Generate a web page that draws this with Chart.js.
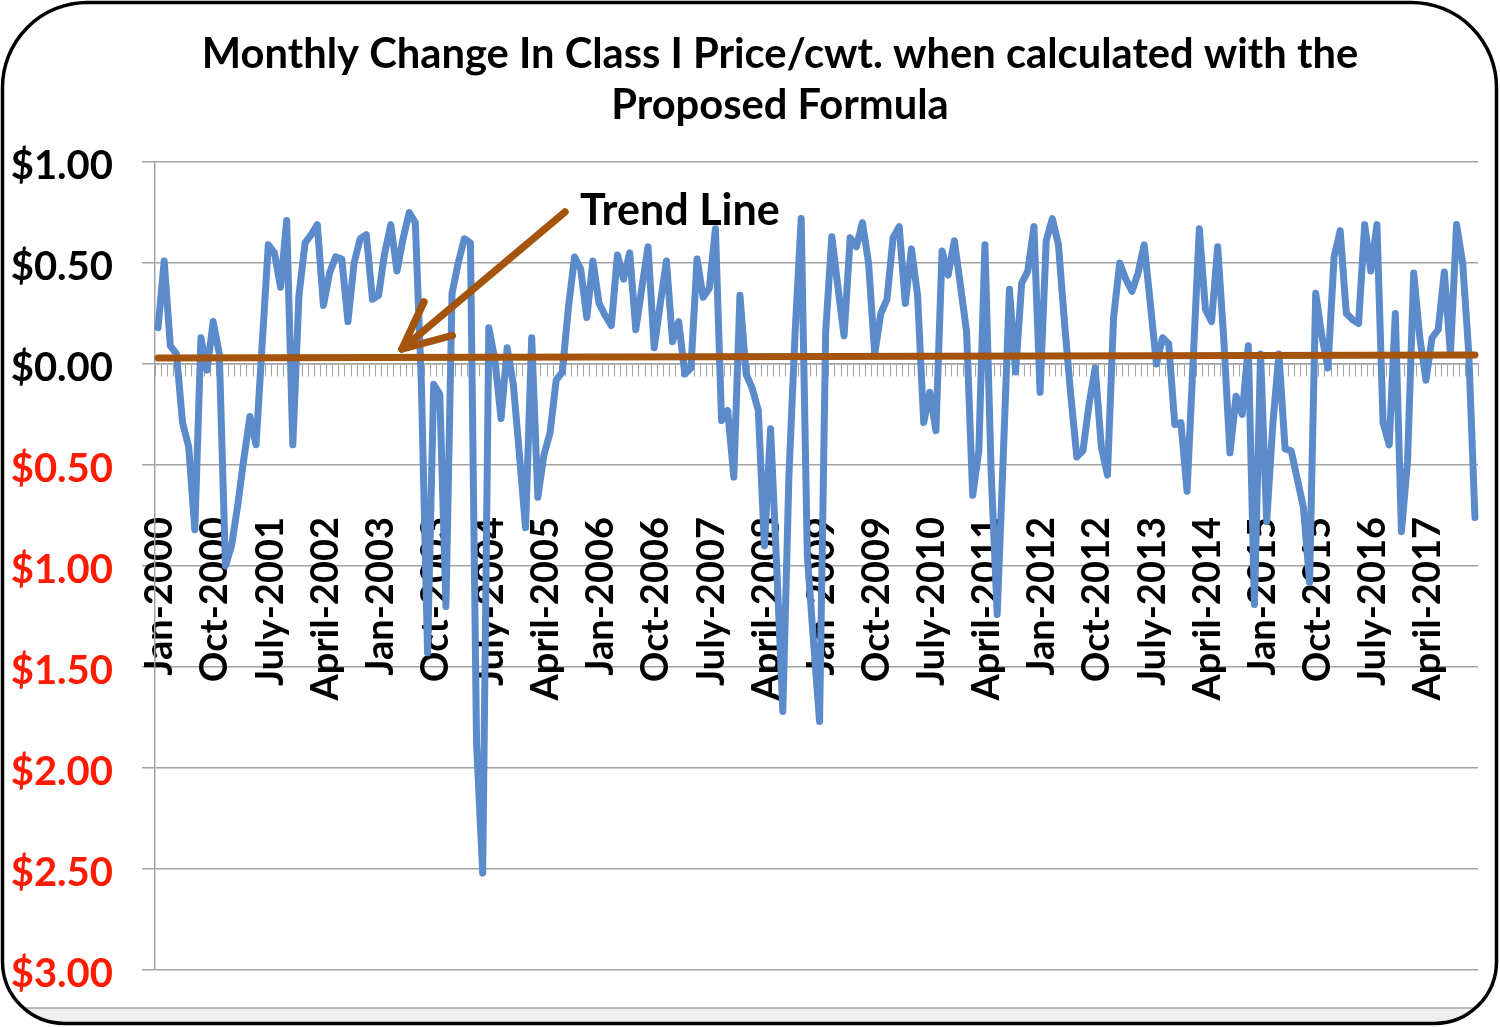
<!DOCTYPE html>
<html>
<head>
<meta charset="utf-8">
<script src="https://cdn.jsdelivr.net/npm/chart.js@4.4.1/dist/chart.umd.min.js"></script>
<style>
html,body{margin:0;padding:0;background:#ffffff;}
#wrap{width:1500px;height:1027px;position:relative;}
</style>
</head>
<body>
<div id="wrap"><canvas id="c" width="1500" height="1027"></canvas></div>
<script>
// ---------- DATA ----------
const monthNames = ['Jan','Feb','Mar','April','May','June','July','Aug','Sept','Oct','Nov','Dec'];
const years = [2000,2001,2002,2003,2004,2005,2006,2007,2008,2009,2010,2011,2012,2013,2014,2015,2016,2017];
const tickLabels = ['Jan-2000','Oct-2000','July-2001','April-2002','Jan-2003','Oct-2003','July-2004','April-2005',
  'Jan-2006','Oct-2006','July-2007','April-2008','Jan-2009','Oct-2009','July-2010','April-2011',
  'Jan-2012','Oct-2012','July-2013','April-2014','Jan-2015','Oct-2015','July-2016','April-2017'];
const categories = [];
years.forEach(y => monthNames.forEach(m => categories.push(m + '-' + y)));

// Monthly change in Class I price ($/cwt), Jan-2000 .. Dec-2017
const classIChange = [
  0.18, 0.51, 0.09, 0.05, -0.29, -0.41, -0.82, 0.13, -0.03, 0.21, 0.05, -1.00,   // 2000
  -0.90, -0.70, -0.47, -0.26, -0.40, 0.10, 0.59, 0.55, 0.38, 0.71, -0.40, 0.34,  // 2001
  0.60, 0.64, 0.69, 0.29, 0.45, 0.53, 0.52, 0.21, 0.50, 0.62, 0.64, 0.32,        // 2002
  0.34, 0.55, 0.69, 0.46, 0.62, 0.75, 0.70, -0.11, -1.43, -0.10, -0.15, -1.20,   // 2003
  0.35, 0.50, 0.62, 0.60, -1.88, -2.52, 0.18, 0.02, -0.27, 0.08, -0.10, -0.45,   // 2004
  -0.81, 0.13, -0.66, -0.45, -0.34, -0.08, -0.04, 0.28, 0.53, 0.47, 0.23, 0.51,  // 2005
  0.30, 0.24, 0.19, 0.54, 0.42, 0.55, 0.17, 0.38, 0.58, 0.08, 0.30, 0.51,        // 2006
  0.11, 0.21, -0.05, -0.02, 0.52, 0.33, 0.375, 0.67, -0.28, -0.23, -0.56, 0.34,  // 2007
  -0.05, -0.12, -0.23, -0.90, -0.32, -1.00, -1.72, -0.55, 0.15, 0.72, -0.95, -1.37, // 2008
  -1.77, 0.16, 0.63, 0.38, 0.14, 0.625, 0.58, 0.70, 0.50, 0.05, 0.25, 0.32,      // 2009
  0.625, 0.68, 0.30, 0.57, 0.34, -0.29, -0.14, -0.33, 0.56, 0.44, 0.61, 0.39,    // 2010
  0.16, -0.65, -0.43, 0.59, -0.52, -1.24, -0.45, 0.37, -0.04, 0.40, 0.46, 0.68,  // 2011
  -0.14, 0.61, 0.72, 0.59, 0.20, -0.15, -0.46, -0.43, -0.20, -0.02, -0.41, -0.55, // 2012
  0.23, 0.50, 0.42, 0.36, 0.45, 0.59, 0.30, 0.00, 0.13, 0.10, -0.30, -0.29,      // 2013
  -0.63, 0.02, 0.67, 0.27, 0.21, 0.58, 0.12, -0.44, -0.16, -0.25, 0.09, -1.19,   // 2014
  0.05, -0.78, -0.30, 0.05, -0.42, -0.43, -0.57, -0.71, -1.08, 0.35, 0.14, -0.02, // 2015
  0.53, 0.66, 0.25, 0.22, 0.20, 0.69, 0.46, 0.69, -0.29, -0.40, 0.25, -0.83,     // 2016
  -0.48, 0.45, 0.13, -0.08, 0.13, 0.17, 0.455, 0.05, 0.69, 0.50, 0.05, -0.76     // 2017
];
// Linear trend line: value at first and last month
const trendEnds = [0.03, 0.045];

const yMin = -3, yMax = 1, yStep = 0.5;

// ---------- STYLE ----------
const BLUE = '#5b8bcb';
const BROWN = '#a4540c';
const RED = '#ff1a00';
const GRID = '#a3a3a3';
const FONT = 'Lato, "Open Sans", sans-serif';

const trendData = categories.map((_, i) =>
  i === 0 ? trendEnds[0] : (i === categories.length - 1 ? trendEnds[1] : null));

function roundRectPath(ctx, x, y, w, h, rt, rb) {
  ctx.beginPath();
  ctx.moveTo(x + rt, y);
  ctx.lineTo(x + w - rt, y);
  ctx.arcTo(x + w, y, x + w, y + rt, rt);
  ctx.lineTo(x + w, y + h - rb);
  ctx.arcTo(x + w, y + h, x + w - rb, y + h, rb);
  ctx.lineTo(x + rb, y + h);
  ctx.arcTo(x, y + h, x, y + h - rb, rb);
  ctx.lineTo(x, y + rt);
  ctx.arcTo(x, y, x + rt, y, rt);
  ctx.closePath();
}

function fitFont(ctx, text, targetW, base) {
  ctx.font = 'bold ' + base + 'px ' + FONT;
  const w = ctx.measureText(text).width;
  let s = base * targetW / w;
  s = Math.max(base * 0.8, Math.min(base * 1.2, s));
  return 'bold ' + s.toFixed(1) + 'px ' + FONT;
}

const framePlugin = {
  id: 'frame',
  beforeDraw(chart) {
    const ctx = chart.ctx;
    ctx.save();
    ctx.fillStyle = '#ffffff';
    ctx.fillRect(0, 0, chart.width, chart.height);
    roundRectPath(ctx, 2.5, 2.5, 1494, 1021, 85, 62);
    ctx.clip();
    ctx.fillStyle = '#efefef';
    ctx.fillRect(0, 1008, chart.width, 30);
    ctx.strokeStyle = '#b9b9b9';
    ctx.lineWidth = 2;
    ctx.beginPath();
    ctx.moveTo(0, 1008);
    ctx.lineTo(chart.width, 1008);
    ctx.stroke();
    ctx.restore();
  },
  afterDraw(chart) {
    const ctx = chart.ctx;
    ctx.save();
    // frame
    roundRectPath(ctx, 2.5, 2.5, 1494, 1021, 85, 62);
    ctx.strokeStyle = '#000000';
    ctx.lineWidth = 3.5;
    ctx.stroke();

    // title
    const t1 = 'Monthly Change In Class I Price/cwt. when calculated with the';
    const t2 = 'Proposed Formula';
    ctx.fillStyle = '#000000';
    ctx.textAlign = 'center';
    ctx.textBaseline = 'alphabetic';
    ctx.font = fitFont(ctx, t1, 1157, 36);
    ctx.fillText(t1, 780, 68);
    ctx.fillText(t2, 780, 119);

    // annotation text
    const tl = 'Trend Line';
    ctx.textAlign = 'left';
    ctx.font = fitFont(ctx, tl, 200, 36);
    ctx.fillText(tl, 580, 225);

    // arrow
    const tipX = 402, tipY = 349, tailX = 565, tailY = 212;
    ctx.strokeStyle = BROWN;
    ctx.lineWidth = 7.5;
    ctx.lineCap = 'round';
    ctx.lineJoin = 'round';
    ctx.beginPath();
    ctx.moveTo(tailX, tailY);
    ctx.lineTo(tipX, tipY);
    ctx.stroke();
    const ang = Math.atan2(tailY - tipY, tailX - tipX);
    const wl = 52, spread = 25 * Math.PI / 180;
    ctx.beginPath();
    ctx.moveTo(tipX + wl * Math.cos(ang + spread), tipY + wl * Math.sin(ang + spread));
    ctx.lineTo(tipX, tipY);
    ctx.lineTo(tipX + wl * Math.cos(ang - spread), tipY + wl * Math.sin(ang - spread));
    ctx.stroke();
    ctx.restore();
  }
};

function build() {
  new Chart(document.getElementById('c'), {
    type: 'line',
    data: {
      labels: categories,
      datasets: [
        {
          label: 'Trend Line',
          data: trendData,
          borderColor: BROWN,
          borderWidth: 7,
          pointRadius: 0,
          spanGaps: true,
          borderCapStyle: 'round',
          tension: 0
        },
        {
          label: 'Monthly Change In Class I Price/cwt.',
          data: classIChange,
          borderColor: BLUE,
          borderWidth: 7,
          pointRadius: 0,
          borderJoinStyle: 'round',
          borderCapStyle: 'round',
          tension: 0
        }
      ]
    },
    options: {
      responsive: false,
      animation: false,
      events: [],
      layout: { padding: { left: 0, right: 22, top: 162, bottom: 57 } },
      plugins: { legend: { display: false }, title: { display: false }, tooltip: { enabled: false } },
      scales: {
        x: {
          type: 'category',
          position: { y: 0 },
          offset: true,
          grid: { display: true, drawOnChartArea: false, drawTicks: true, tickLength: 12, color: GRID, lineWidth: 1, offset: true },
          border: { display: true, color: GRID, width: 1.5 },
          ticks: {
            autoSkip: false,
            minRotation: 90,
            maxRotation: 90,
            padding: 141,
            labelOffset: 2,
            color: '#000000',
            font: { family: FONT, weight: 'bold', size: 38 },
            callback: function (value, index) {
              const lab = categories[index];
              return tickLabels.includes(lab) ? lab : '';
            }
          },
          afterFit: function (s) { s.height = 0; s.paddingLeft = 0; s.paddingRight = 0; }
        },
        y: {
          min: yMin,
          max: yMax,
          grid: { color: GRID, lineWidth: 1.5, tickLength: 13, drawTicks: true },
          border: { display: true, color: GRID, width: 1.5 },
          ticks: {
            stepSize: yStep,
            padding: 29,
            labelOffset: 4,
            font: { family: FONT, weight: 'bold', size: 40 },
            color: (c) => (c.tick && c.tick.value < 0 ? RED : '#000000'),
            callback: (v) => '$' + Math.abs(v).toFixed(2)
          },
          afterFit: function (s) { s.width = 155; }
        }
      }
    },
    plugins: [framePlugin]
  });
}

let built = false;
function go() { if (!built) { built = true; build(); } }
if (document.fonts && document.fonts.load) {
  Promise.all([document.fonts.load('bold 40px Lato')]).then(go, go);
  setTimeout(go, 1500);
} else { go(); }
</script>
</body>
</html>
